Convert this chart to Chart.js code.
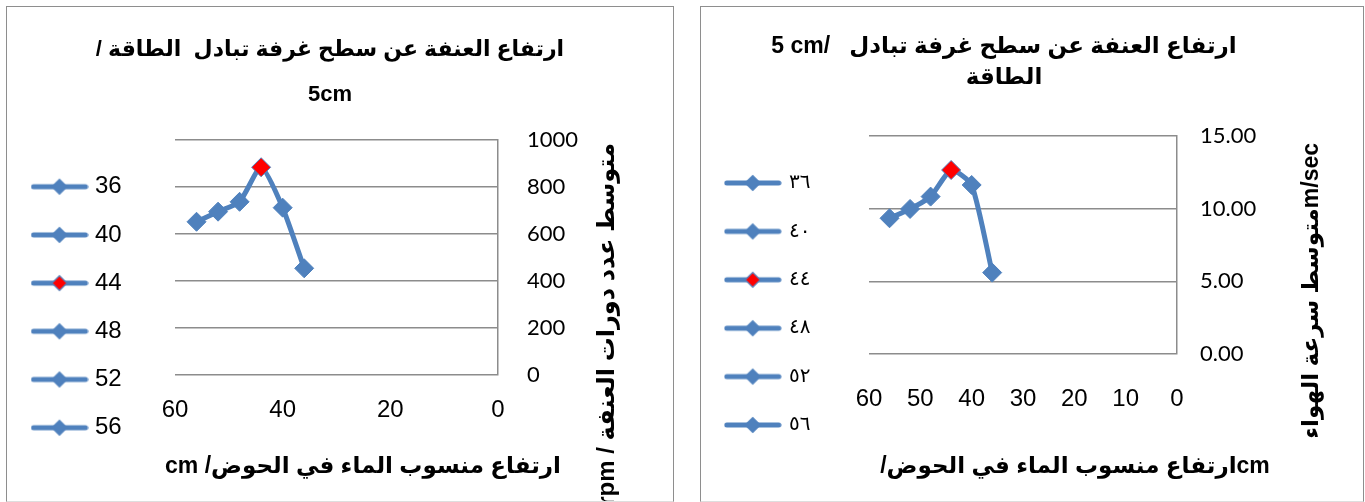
<!DOCTYPE html>
<html>
<head>
<meta charset="utf-8">
<script src="https://cdn.jsdelivr.net/npm/chart.js@4.4.1/dist/chart.umd.min.js"></script>
<style>
  html, body { margin: 0; padding: 0; background: #fff; }
  body { width: 1365px; height: 502px; position: relative; overflow: hidden; }
  .wrap { position: absolute; top: 0; height: 502px; }
  #w1 { left: 0; width: 686px; }
  #w2 { left: 690px; width: 675px; }
  canvas { display: block; }
  .frame { position: absolute; box-sizing: border-box; border: 1.5px solid #8e8e8e;
           border-bottom-color: #dedede; pointer-events: none; }
  #f1 { left: 6px; top: 6px; width: 668px; height: 496px; }
  #f2 { left: 700px; top: 6px; width: 664px; height: 496px; }
</style>
</head>
<body>
<div class="wrap" id="w1"><canvas id="c1" width="686" height="502"></canvas></div>
<div class="wrap" id="w2"><canvas id="c2" width="675" height="502"></canvas></div>
<div class="frame" id="f1"></div>
<div class="frame" id="f2"></div>
<script>
// Water level in the basin (cm) and the measured means at each level
const heights   = [36, 40, 44, 48, 52, 56];
const rpmValues = [454, 712, 884, 737, 695, 652];          // mean turbine speed, rpm
const airSpeed  = [5.60, 11.63, 12.66, 10.83, 9.98, 9.34];  // mean air speed, m/sec
const highlighted = 44;                                    // best level, marked in red

// Legend captions (Latin and Arabic-Indic digits)
const legendLatin  = ['36', '40', '44', '48', '52', '56'];
const legendArabic = ['٣٦', '٤٠', '٤٤', '٤٨', '٥٢', '٥٦'];

// Tick values
const rpmTicks    = [0, 200, 400, 600, 800, 1000];
const speedTicks  = [0, 5, 10, 15];
const xTicksLeft  = [0, 20, 40, 60];
const xTicksRight = [0, 10, 20, 30, 40, 50, 60];

const BLUE = '#4F81BD';
const RED = '#FF0000';
const GRID = '#8c8c8c';
const SANS = '"Liberation Sans", "DejaVu Sans", Arial, sans-serif';
const CALI = 'Lato, "Open Sans", "DejaVu Sans", sans-serif';
const ARAB = '"Liberation Sans", "DejaVu Sans", sans-serif';

// Legend swatch: a short line with a diamond marker on it
function legendIcon(fill) {
  const c = document.createElement('canvas');
  c.width = 58; c.height = 20;
  const g = c.getContext('2d');
  g.strokeStyle = BLUE; g.lineWidth = 5; g.lineCap = 'round';
  g.beginPath(); g.moveTo(3, 10); g.lineTo(55, 10); g.stroke();
  g.beginPath();
  g.moveTo(21.5, 10); g.lineTo(29, 2.5); g.lineTo(36.5, 10); g.lineTo(29, 17.5); g.closePath();
  g.fillStyle = fill; g.fill();
  g.lineWidth = 1.2; g.strokeStyle = BLUE; g.stroke();
  return c;
}
const iconBlue = legendIcon(BLUE);
const iconRed = legendIcon(RED);

// Fixes the legend column width / top and draws the axis captions
const panelLayout = {
  id: 'panelLayout',
  beforeLayout(chart, args, o) {
    const lg = chart.legend;
    if (lg && !lg._widthLocked) {
      const fit = lg.fit;
      lg.fit = function () { fit.call(this); this.width = o.legendWidth; };
      lg._widthLocked = true;
    }
  },
  afterLayout(chart, args, o) {
    const lg = chart.legend;
    if (lg) { lg.top = o.legendTop; lg.bottom = chart.height; lg.height = lg.bottom - lg.top; }
  },
  afterDraw(chart, args, o) {
    const ctx = chart.ctx;
    (o.captions || []).forEach(t => {
      ctx.save();
      ctx.font = t.font;
      ctx.fillStyle = '#000';
      ctx.textAlign = t.align || 'center';
      ctx.textBaseline = 'middle';
      ctx.translate(t.x, t.y);
      if (t.rotate) ctx.rotate(t.rotate);
      ctx.fillText(t.text, 0, 0);
      ctx.restore();
    });
  }
};

function makeChart(id, cfg) {
  const points = heights.map((h, i) => ({ x: h, y: cfg.values[i] }));
  return new Chart(document.getElementById(id), {
    type: 'line',
    data: {
      datasets: [{
        data: points,
        borderColor: BLUE,
        borderWidth: 5,
        tension: 0.2,
        pointStyle: 'rectRot',
        pointRadius: 9.5,
        pointBackgroundColor: heights.map(h => h === highlighted ? RED : BLUE),
        pointBorderColor: BLUE,
        pointBorderWidth: 1,
        fill: false
      }]
    },
    options: {
      responsive: false,
      animation: false,
      events: [],
      layout: { padding: { left: cfg.padLeft, right: cfg.padRight, top: 0, bottom: 0 } },
      scales: {
        x: {
          type: 'linear', reverse: true, min: 0, max: 60,
          afterBuildTicks: s => { s.ticks = cfg.xTicks.map(v => ({ value: v })); },
          afterFit: s => { s.height = cfg.xHeight; },
          grid: { display: false, drawTicks: false },
          border: { display: false },
          ticks: { color: '#000', font: { family: SANS, size: 24 }, padding: cfg.xPad,
                   maxRotation: 0, autoSkip: false }
        },
        y: {
          type: 'linear', position: 'right', min: 0, max: cfg.yMax,
          afterBuildTicks: s => { s.ticks = cfg.yTicks.map(v => ({ value: v })); },
          afterFit: s => { s.width = cfg.yWidth; },
          grid: { color: GRID, lineWidth: 1.5, drawTicks: false },
          border: { display: true, color: GRID, width: 1.5 },
          ticks: { color: '#000', font: { family: CALI, size: 22 }, padding: cfg.yPad,
                   callback: cfg.yFormat }
        }
      },
      plugins: {
        tooltip: { enabled: false },
        title: {
          display: true, text: cfg.title, color: '#000',
          font: { family: ARAB, size: cfg.titleSize, weight: 'bold',
                  lineHeight: cfg.titleLine / cfg.titleSize },
          padding: { top: cfg.titleTop, bottom: cfg.titleBottom }
        },
        legend: {
          display: true, position: 'left', align: 'start', fullSize: true,
          labels: {
            color: '#000',
            font: { family: cfg.legendFont, size: cfg.legendSize },
            usePointStyle: true,
            pointStyleWidth: cfg.legendBox,
            padding: cfg.legendPad,
            generateLabels: () => cfg.legend.map((t, i) => ({
              text: t,
              pointStyle: heights[i] === highlighted ? iconRed : iconBlue,
              fillStyle: BLUE, strokeStyle: BLUE, lineWidth: 0,
              fontColor: '#000', hidden: false, datasetIndex: 0, index: i
            }))
          }
        },
        panelLayout: {
          legendWidth: cfg.legendWidth,
          legendTop: cfg.legendTop,
          captions: cfg.captions
        }
      }
    },
    plugins: [panelLayout]
  });
}

// Turbine speed panel
makeChart('c1', {
  values: rpmValues, yMax: 1000, yTicks: rpmTicks, xTicks: xTicksLeft,
  yFormat: v => String(v),
  padLeft: 11.8, padRight: 37.8, legendWidth: 163.2, yWidth: 150.2, xHeight: 127,
  xPad: 21, yPad: 29,
  title: ['/ ارتفاع العنفة عن سطح غرفة تبادل  الطاقة', '5cm'],
  titleSize: 22, titleLine: 45, titleTop: 27.5, titleBottom: 22.5,
  legend: legendLatin, legendFont: SANS, legendSize: 24, legendBox: 47, legendPad: 24.2,
  legendTop: 150.5,
  captions: [
    { text: 'cm /ارتفاع منسوب الماء في الحوض', x: 363, y: 467, font: 'bold 23px ' + ARAB },
    { text: 'rpm / متوسط عدد دورات العنفة', x: 607, y: 143, rotate: -Math.PI / 2,
      align: 'right', font: 'bold 24px ' + ARAB }
  ]
});

// Air speed panel
makeChart('c2', {
  values: airSpeed, yMax: 15, yTicks: speedTicks, xTicks: xTicksRight,
  yFormat: v => Number(v).toFixed(2),
  padLeft: 8, padRight: 55, legendWidth: 171, yWidth: 133, xHeight: 148,
  xPad: 31, yPad: 23,
  title: ['5 cm/   ارتفاع العنفة عن سطح غرفة تبادل', 'الطاقة'],
  titleSize: 23, titleLine: 31, titleTop: 31.5, titleBottom: 42.5,
  legend: legendArabic, legendFont: '"DejaVu Serif", "DejaVu Sans", serif', legendSize: 20,
  legendBox: 52.6, legendPad: 28.4, legendTop: 144.6,
  captions: [
    { text: '/' + 'ارتفاع منسوب الماء في الحوض' + 'cm', x: 385, y: 467, font: 'bold 23px ' + ARAB },
    { text: 'متوسط سرعة الهواء' + 'm/sec', x: 622, y: 143, rotate: -Math.PI / 2,
      align: 'right', font: 'bold 23px ' + ARAB }
  ]
});
</script>
</body>
</html>
